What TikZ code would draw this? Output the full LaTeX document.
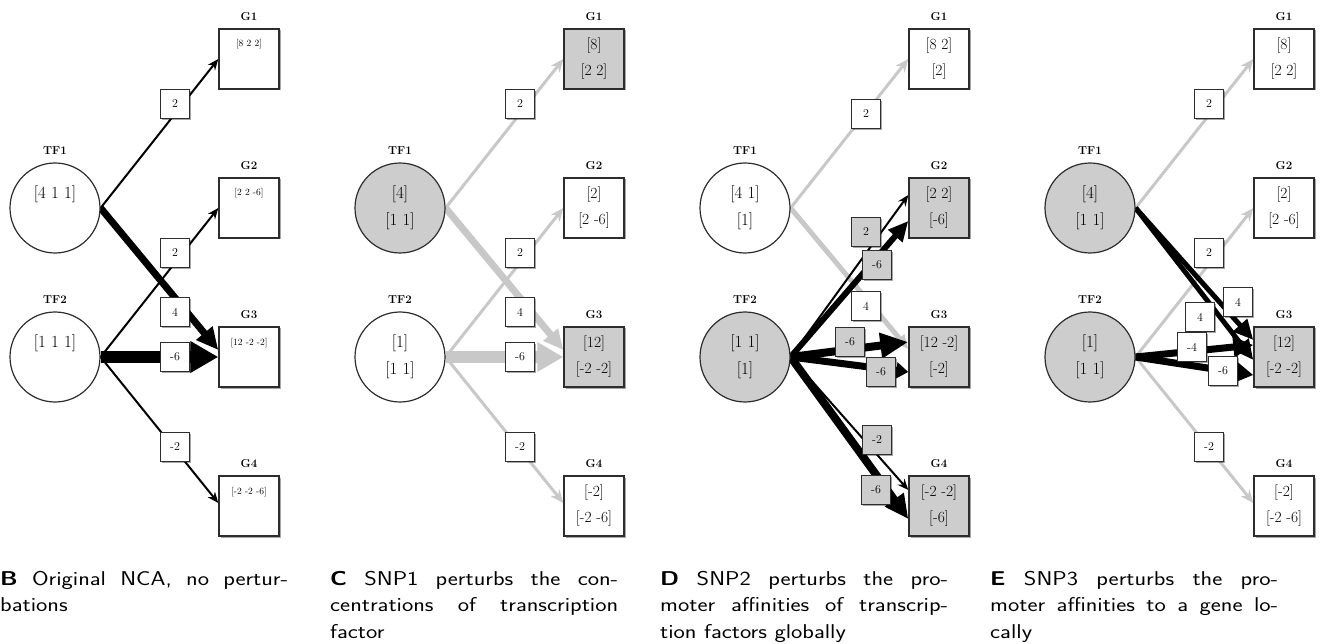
\documentclass[tikz,border=0pt]{standalone}
\usepackage{fontspec}
\newfontfamily\capfont[FakeStretch=1.2]{Latin Modern Sans}
\usetikzlibrary{arrows.meta,shadows,backgrounds}
\definecolor{fillgray}{RGB}{205,205,205}
\definecolor{edgegray}{RGB}{200,200,200}
\definecolor{rim}{RGB}{45,45,45}
\tikzset{
  shad/.style={drop shadow={shadow xshift=1.5pt, shadow yshift=-1.5pt, fill=black, opacity=0.35}},
  tf/.style={circle, draw=rim, line width=1.2pt, minimum size=90pt, inner sep=0pt, fill=white,
    align=center, font=\fontsize{17}{27}\selectfont},
  gb/.style={rectangle, draw=rim, line width=1.4pt, minimum size=60pt, inner sep=0pt, fill=white,
    align=center, font=\fontsize{15.5}{26}\selectfont, shad},
  lab/.style={rectangle, draw=rim, line width=1.1pt, minimum size=29pt, inner sep=0pt, fill=white,
    font=\fontsize{12}{14}\selectfont, shad},
  grayfill/.style={fill=fillgray},
  hd/.style={font=\bfseries\fontsize{11.5}{14}\selectfont},
  every label/.style={hd},
  label distance=4pt,
  blk/.style={draw=black},
  gry/.style={draw=edgegray},
  thinb/.style={blk, line width=2pt, -{Stealth[length=11pt,width=9pt]}},
  thing/.style={gry, line width=3pt, -{Stealth[length=13pt,width=11pt]}},
  captext/.style={anchor=north west, text width=288pt, align=justify, inner sep=0pt,
    font=\capfont\fontsize{20}{26.5}\selectfont}
}
% small vector printed near the top of a gene box
\newcommand{\topvec}[1]{\smash{\raisebox{12pt}{\fontsize{9.5}{10}\selectfont #1}}}
\begin{document}
\begin{tikzpicture}[x=1pt, y=-1pt]
\useasboundingbox (0,0) rectangle (1331,644);

% ---------- B: original NCA ----------
\node[tf, label=above:TF1] (bt1) at (55,208) {[4 1 1]\\\vphantom{[}};
\node[tf, label=above:TF2] (bt2) at (55,357) {[1 1 1]\\\vphantom{[}};
\node[gb, label=above:G1] (bg1) at (249,59)  {\topvec{[8 2 2]}};
\node[gb, label=above:G2] (bg2) at (249,208) {\topvec{[2 2 -6]}};
\node[gb, label=above:G3] (bg3) at (249,357) {\topvec{[12 -2 -2]}};
\node[gb, label=above:G4] (bg4) at (249,506) {\topvec{[-2 -2 -6]}};
\begin{pgfonlayer}{background}
  \draw[thinb] (bt1.east) -- (bg1.west);
  \draw[blk, line width=7pt, -{Triangle[length=22pt,width=20pt]}] (bt1.east) -- ([yshift=7pt]bg3.west);
  \draw[blk, line width=12pt, -{Triangle[length=28pt,width=30pt]}] (bt2.east) -- (bg3.west);
  \draw[thinb] (bt2.east) -- (bg2.west);
  \draw[thinb] (bt2.east) -- ([yshift=3pt]bg4.west);
\end{pgfonlayer}
\node[lab] (bl1) at (175,104) {2};
\node[lab] (bl2) at (175,253) {2};
\node[lab] (bl3) at (175,312) {4};
\node[lab] (bl4) at (175,357) {-6};
\node[lab] (bl5) at (175,447) {-2};

% ---------- C: SNP1 ----------
\begin{scope}[xshift=345pt]
\node[tf, grayfill, label=above:TF1] (ct1) at (55,208) {[4]\\{}[1 1]};
\node[tf, label=above:TF2] (ct2) at (55,357) {[1]\\{}[1 1]};
\node[gb, grayfill, label=above:G1] (cg1) at (249,59)  {[8]\\{}[2 2]};
\node[gb, label=above:G2] (cg2) at (249,208) {[2]\\{}[2 -6]};
\node[gb, grayfill, label=above:G3] (cg3) at (249,357) {[12]\\{}[-2 -2]};
\node[gb, label=above:G4] (cg4) at (249,506) {[-2]\\{}[-2 -6]};
\begin{pgfonlayer}{background}
  \draw[thing] (ct1.east) -- (cg1.west);
  \draw[gry, line width=7pt, -{Triangle[length=20pt,width=18pt]}] (ct1.east) -- ([yshift=7pt]cg3.west);
  \draw[gry, line width=12pt, -{Triangle[length=26pt,width=28pt]}] (ct2.east) -- (cg3.west);
  \draw[thing] (ct2.east) -- (cg2.west);
  \draw[thing] (ct2.east) -- ([yshift=3pt]cg4.west);
\end{pgfonlayer}
\node[lab] (cl1) at (175,104) {2};
\node[lab] (cl2) at (175,253) {2};
\node[lab] (cl3) at (175,312) {4};
\node[lab] (cl4) at (175,357) {-6};
\node[lab] (cl5) at (175,447) {-2};
\end{scope}

% ---------- D: SNP2 ----------
\begin{scope}[xshift=690pt]
\node[tf, label=above:TF1] (dt1) at (55,208) {[4 1]\\{}[1]};
\node[tf, grayfill, label=above:TF2] (dt2) at (55,357) {[1 1]\\{}[1]};
\node[gb, label=above:G1] (dg1) at (249,59)  {[8 2]\\{}[2]};
\node[gb, grayfill, label=above:G2] (dg2) at (249,208) {[2 2]\\{}[-6]};
\node[gb, grayfill, label=above:G3] (dg3) at (249,357) {[12 -2]\\{}[-2]};
\node[gb, grayfill, label=above:G4] (dg4) at (249,506) {[-2 -2]\\{}[-6]};
\begin{pgfonlayer}{background}
  \draw[thing] (dt1.east) -- (dg1.west);
  \draw[gry, line width=5pt, -{Triangle[length=14pt,width=12pt]}] (dt1.east) -- ([yshift=8pt]dg3.west);
  \draw[thinb] (dt2.east) -- ([yshift=13pt]dg2.west);
  \draw[blk, line width=6pt, -{Triangle[length=20pt,width=18pt]}] (dt2.east) -- ([yshift=-13pt]dg2.west);
  \draw[blk, line width=8pt, -{Triangle[length=28pt,width=24pt]}] (dt2.east) -- ([yshift=15pt]dg3.west);
  \draw[blk, line width=7pt, -{Triangle[length=12pt,width=16pt]}] (dt2.east) -- ([yshift=-15pt]dg3.west);
  \draw[thinb] (dt2.east) -- ([yshift=16pt]dg4.west);
  \draw[blk, line width=8pt, -{Triangle[length=24pt,width=22pt]}] (dt2.east) -- ([yshift=-13pt]dg4.west);
\end{pgfonlayer}
\node[lab] (dl1) at (176,114) {2};
\node[lab] (dl2) at (176,306) {4};
\node[lab, grayfill] (dl3) at (176,232) {2};
\node[lab, grayfill] (dl4) at (187,265) {-6};
\node[lab, grayfill] (dl5) at (160,342) {-6};
\node[lab, grayfill] (dl6) at (191,372) {-6};
\node[lab, grayfill] (dl7) at (187,440) {-2};
\node[lab, grayfill] (dl8) at (186,490) {-6};
\end{scope}

% ---------- E: SNP3 ----------
\begin{scope}[xshift=1035pt]
\node[tf, grayfill, label=above:TF1] (et1) at (55,208) {[4]\\{}[1 1]};
\node[tf, grayfill, label=above:TF2] (et2) at (55,357) {[1]\\{}[1 1]};
\node[gb, label=above:G1] (eg1) at (249,59)  {[8]\\{}[2 2]};
\node[gb, label=above:G2] (eg2) at (249,208) {[2]\\{}[2 -6]};
\node[gb, grayfill, label=above:G3] (eg3) at (249,357) {[12]\\{}[-2 -2]};
\node[gb, label=above:G4] (eg4) at (249,506) {[-2]\\{}[-2 -6]};
\begin{pgfonlayer}{background}
  \draw[thing] (et1.east) -- (eg1.west);
  \draw[thing] (et2.east) -- (eg2.west);
  \draw[thing] (et2.east) -- ([yshift=3pt]eg4.west);
  \draw[blk, line width=5pt, -{Triangle[length=20pt,width=18pt]}] (et1.east) -- ([yshift=17pt]eg3.west);
  \draw[blk, line width=5pt, -{Triangle[length=20pt,width=18pt]}] (et1.east) -- ([yshift=-3pt]eg3.west);
  \draw[blk, line width=7pt, -{Triangle[length=20pt,width=20pt]}] (et2.east) -- ([yshift=12pt]eg3.west);
  \draw[blk, line width=7pt, -{Triangle[length=18pt,width=20pt]}] (et2.east) -- ([yshift=-18pt]eg3.west);
\end{pgfonlayer}
\node[lab] (el1) at (174,104) {2};
\node[lab] (el2) at (174,253) {2};
\node[lab] (el3) at (174,447) {-2};
\node[lab] (el4) at (165,317) {4};
\node[lab] (el5) at (203,302) {4};
\node[lab] (el6) at (157,347) {-4};
\node[lab] (el7) at (188,371) {-6};
\end{scope}

% ---------- captions ----------
\node[captext] (capB) at (0,571)   {\textbf{B} Original NCA, no pertur-\linebreak bations};
\node[captext] (capC) at (330,571) {\textbf{C} SNP1 perturbs the con-\linebreak centrations of transcription\linebreak factor};
\node[captext] (capD) at (660,571) {\textbf{D} SNP2 perturbs the pro-\linebreak moter affinities of transcrip-\linebreak tion factors globally};
\node[captext] (capE) at (990,571) {\textbf{E} SNP3 perturbs the pro-\linebreak moter affinities to a gene lo-\linebreak cally};
\end{tikzpicture}
\end{document}
